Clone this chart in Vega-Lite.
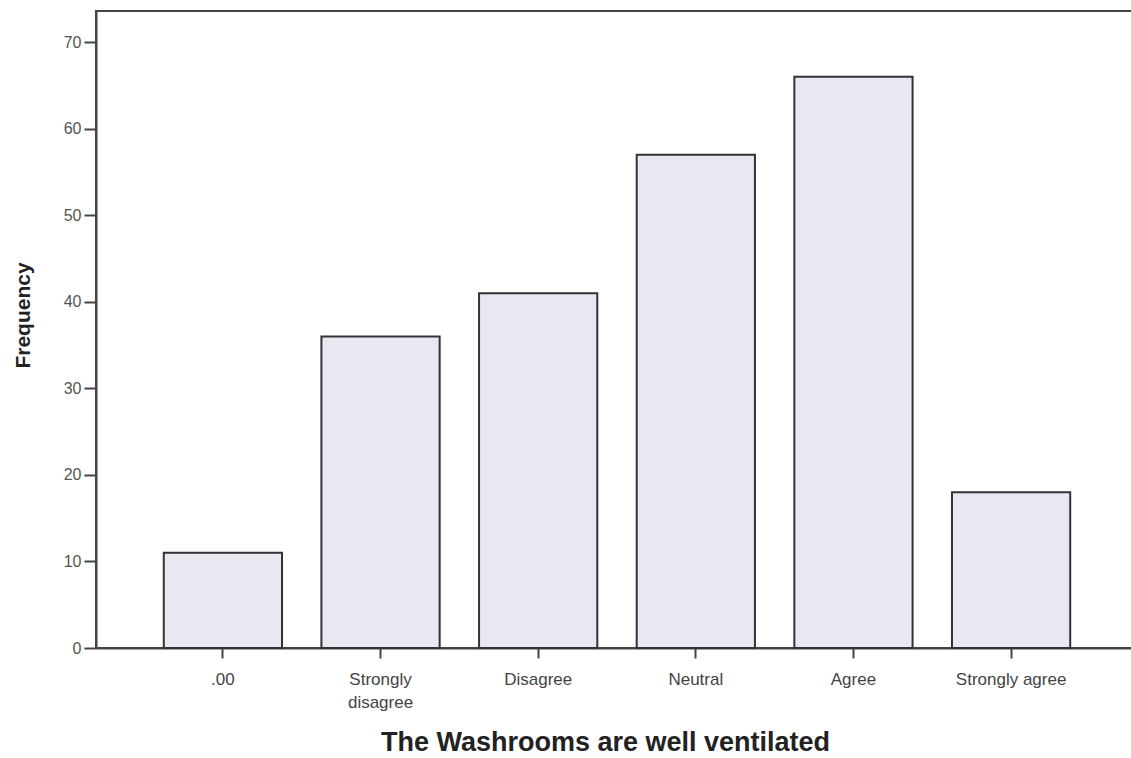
{
  "$schema": "https://vega.github.io/schema/vega-lite/v6.json",
  "autosize": {"type": "none"},
  "padding": {"left": 96, "top": 11, "right": 0, "bottom": 110},
  "width": 1042,
  "height": 637,
  "background": "#ffffff",
  "config": {
    "view": {"stroke": "#444444", "strokeWidth": 2},
    "font": "Liberation Sans"
  },
  "data": {
    "values": [
      {"response": ".00", "frequency": 11},
      {"response": "Strongly disagree", "frequency": 36},
      {"response": "Disagree", "frequency": 41},
      {"response": "Neutral", "frequency": 57},
      {"response": "Agree", "frequency": 66},
      {"response": "Strongly agree", "frequency": 18}
    ]
  },
  "mark": {"type": "bar", "fill": "#e9e7f1", "stroke": "#333333", "strokeWidth": 2},
  "encoding": {
    "x": {
      "field": "response",
      "type": "nominal",
      "sort": null,
      "scale": {"paddingInner": 0.25, "paddingOuter": 0.43},
      "axis": {
        "title": "The Washrooms are well ventilated",
        "titleFont": "Liberation Sans",
        "titleFontSize": 27,
        "titleFontWeight": "bold",
        "titleColor": "#222222",
        "titlePadding": 19,
        "titleX": 509,
        "labelAngle": 0,
        "labelFontSize": 17,
        "labelColor": "#444444",
        "labelPadding": 13,
        "labelExpr": "datum.label == 'Strongly disagree' ? ['Strongly', 'disagree'] : datum.label",
        "labelLineHeight": 23,
        "domainColor": "#444444",
        "domainWidth": 2,
        "tickColor": "#444444",
        "tickSize": 10,
        "tickWidth": 2
      }
    },
    "y": {
      "field": "frequency",
      "type": "quantitative",
      "scale": {"domain": [0, 73.6], "nice": false},
      "axis": {
        "title": "Frequency",
        "titleFont": "Liberation Sans",
        "titleFontSize": 21,
        "titleFontWeight": "bold",
        "titleColor": "#222222",
        "titlePadding": 30,
        "titleY": 304,
        "values": [0, 10, 20, 30, 40, 50, 60, 70],
        "grid": false,
        "labelFontSize": 16,
        "labelColor": "#555555",
        "labelPadding": 3,
        "domainColor": "#444444",
        "domainWidth": 2,
        "tickColor": "#444444",
        "tickSize": 12,
        "tickWidth": 2
      }
    }
  }
}
